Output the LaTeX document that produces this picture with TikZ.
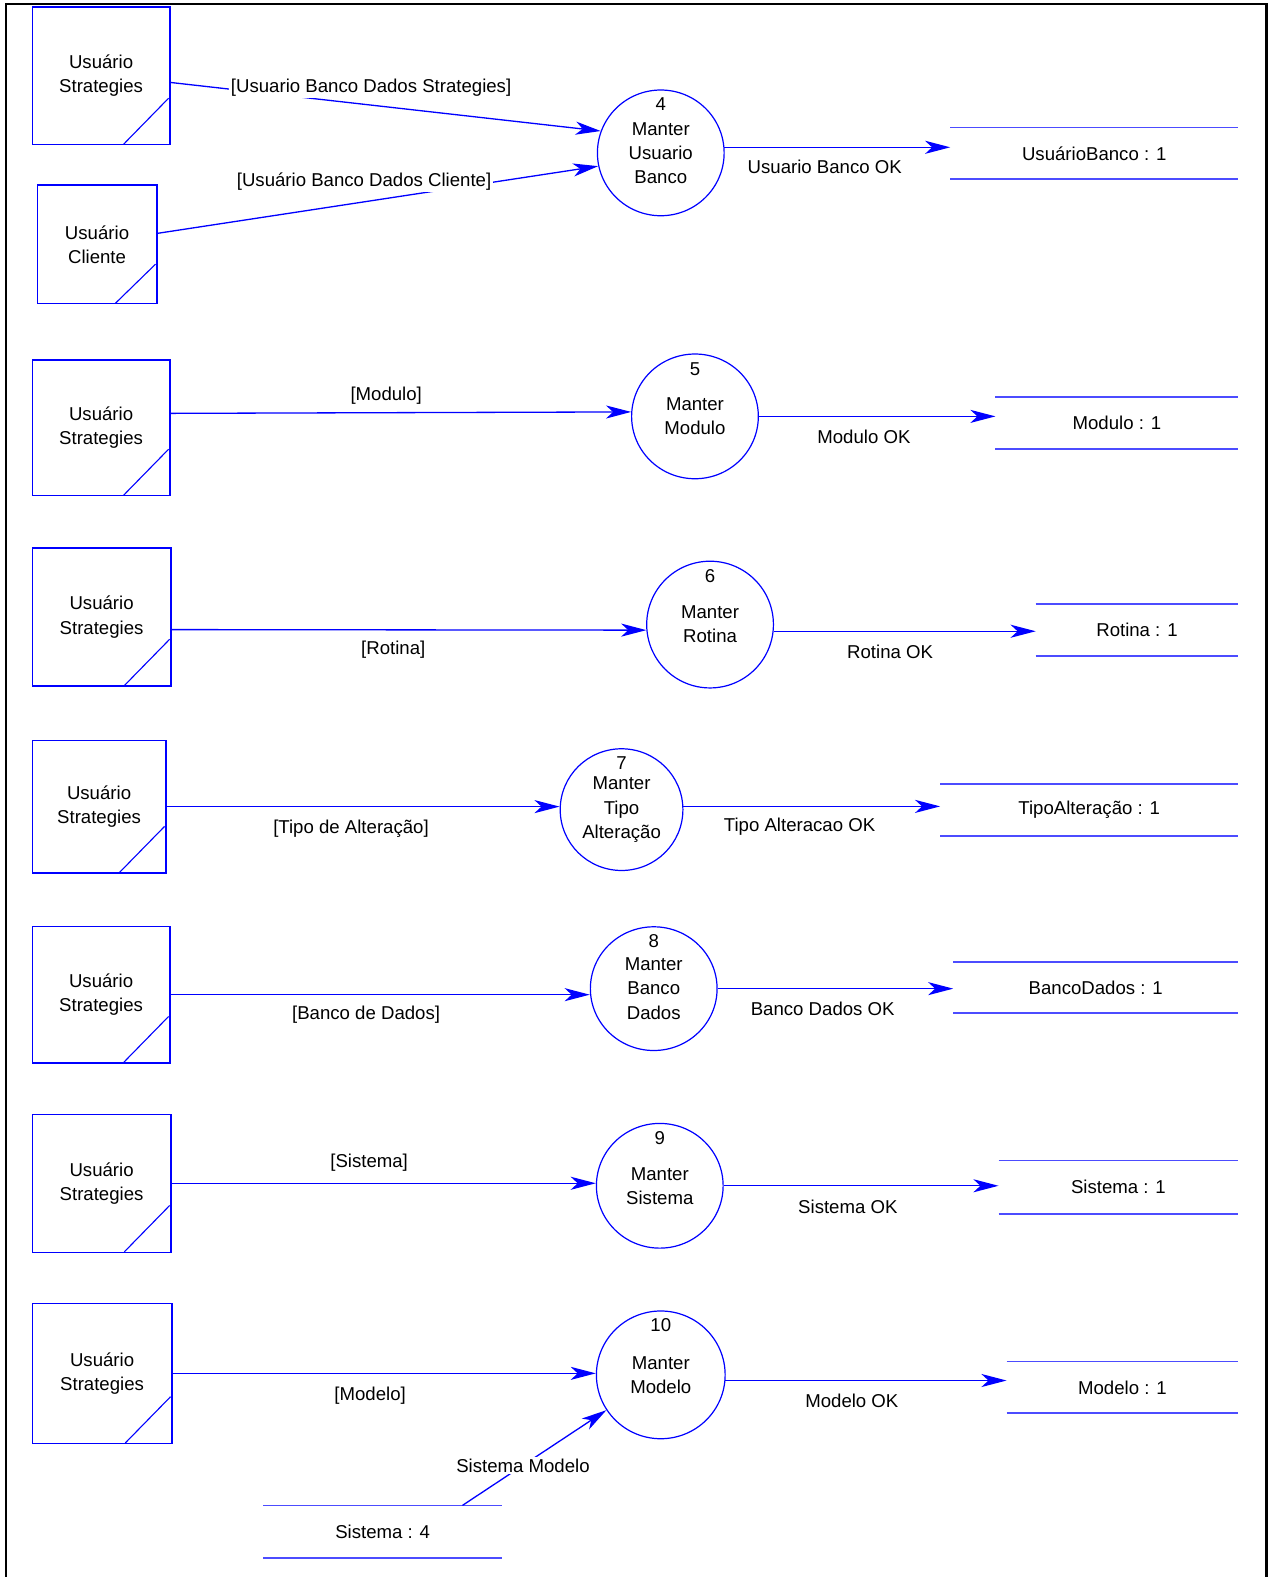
\documentclass[tikz,border=0pt]{standalone}
\usepackage{fontspec}
\setmainfont{Liberation Sans}
\usetikzlibrary{shapes.geometric,arrows.meta,calc}
\definecolor{dfdblue}{RGB}{0,0,255}

\begin{document}
\begin{tikzpicture}[x=1pt,y=-1pt,
  every node/.style={font=\fontsize{18.5}{24}\selectfont, text=black, inner sep=0pt, align=center},
  ent/.style={draw=dfdblue, line width=1.3pt, rectangle},
  diag/.style={draw=dfdblue, line width=1.1pt},
  proc/.style={draw=dfdblue, line width=1.2pt, ellipse},
  store/.style={rectangle},
  storeline/.style={draw=dfdblue!70, line width=1.7pt},
  flow/.style={draw=dfdblue, line width=1.3pt, -{Stealth[length=25pt,width=13pt,inset=7pt]}},
  tag/.style={fill=white, inner sep=1.5pt, yshift=-2pt},
  frameline/.style={draw=black, line width=2.5pt}
]
\useasboundingbox (0,0) rectangle (1264,1568);

% outer frame (open at the bottom)
\draw[frameline] (6,1568) -- (6,4) -- (1259,4) -- (1259,1568);

% external entities
\node[ent, minimum width=137pt, minimum height=137pt] (b1)  at (100.5,75.5)   {Usuário\\Strategies};
\node[ent, minimum width=119pt, minimum height=118pt] (b2)  at (96.5,243)     {Usuário\\Cliente};
\node[ent, minimum width=137pt, minimum height=135pt] (b5)  at (100.5,425.5)  {Usuário\\Strategies};
\node[ent, minimum width=138pt, minimum height=137pt] (b6)  at (101,613.5)    {Usuário\\Strategies};
\node[ent, minimum width=133pt, minimum height=132pt] (b7)  at (98.5,802)     {Usuário\\Strategies};
\node[ent, minimum width=137pt, minimum height=136pt] (b8)  at (100.5,989)    {Usuário\\Strategies};
\node[ent, minimum width=138pt, minimum height=137pt] (b9)  at (101,1176.5)   {Usuário\\Strategies};
\node[ent, minimum width=139pt, minimum height=139pt] (b10) at (101.5,1365.5) {Usuário\\Strategies};

% corner strokes of the entities
\foreach \b in {b1,b5,b6,b7,b8,b9,b10}
  \draw[diag] ($(\b.south east)+(-47,-1)$) -- ($(\b.south east)+(-2,-47)$);
\draw[diag] ($(b2.south east)+(-42,-1)$) -- ($(b2.south east)+(-2,-40)$);

% processes
\node[proc, minimum width=126pt, minimum height=125pt] (c4)  at (657,152)  {Manter\\Usuario\\Banco};
\node[proc, minimum width=126pt, minimum height=124pt] (c5)  at (691,414)  {Manter\\Modulo};
\node[proc, minimum width=126pt, minimum height=126pt] (c6)  at (706,621)  {Manter\\Rotina};
\node[proc, minimum width=122pt, minimum height=121pt] (c7)  at (618,805)  {Manter\\Tipo\\Alteração};
\node[proc, minimum width=126pt, minimum height=123pt] (c8)  at (650,983)  {Manter\\Banco\\Dados};
\node[proc, minimum width=126pt, minimum height=124pt] (c9)  at (656,1179) {Manter\\Sistema};
\node[proc, minimum width=128pt, minimum height=127pt] (c10) at (657,1367) {Manter\\Modelo};

% process numbers
\node (n4)  at ($(c4.north)+(0,15)$)  {4};
\node (n5)  at ($(c5.north)+(0,16)$)  {5};
\node (n6)  at ($(c6.north)+(0,15)$)  {6};
\node (n7)  at ($(c7.north)+(0,15)$)  {7};
\node (n8)  at ($(c8.north)+(0,15)$)  {8};
\node (n9)  at ($(c9.north)+(0,15)$)  {9};
\node (n10) at ($(c10.north)+(0,15)$) {10};

% data stores
\node[store, minimum width=286pt, minimum height=51pt] (s4)  at (1088,152.5)   {UsuárioBanco : 1};
\node[store, minimum width=241pt, minimum height=51pt] (s5)  at (1110.5,420.5) {Modulo : 1};
\node[store, minimum width=201pt, minimum height=51pt] (s6)  at (1130.5,626.5) {Rotina : 1};
\node[store, minimum width=296pt, minimum height=51pt] (s7)  at (1083,805.5)   {TipoAlteração : 1};
\node[store, minimum width=283pt, minimum height=50pt] (s8)  at (1089.5,982)   {BancoDados : 1};
\node[store, minimum width=238pt, minimum height=53pt] (s9)  at (1112,1180.5)  {Sistema : 1};
\node[store, minimum width=230pt, minimum height=51pt] (s10) at (1116,1379.5)  {Modelo : 1};
\node[store, minimum width=237pt, minimum height=52pt] (sS)  at (380.5,1523)   {Sistema : 4};
\foreach \s in {s4,s5,s6,s7,s8,s9,s10,sS} {
  \draw[storeline] (\s.north west) -- (\s.north east);
  \draw[storeline] (\s.south west) -- (\s.south east);
}

% data flows
\draw[flow] ($(b1.east)+(0,6.5)$) -- (c4.160);
\draw[flow] ($(b2.east)+(0,-11)$) -- (c4.192);
\draw[flow] (c4.5) -- (c4.5 -| s4.west);

\draw[flow] ($(b5.east)+(0,-14.5)$) -- (c5.176);
\draw[flow] (c5.east) -- (c5.east -| s5.west);

\draw[flow] ($(b6.east)+(0,12.5)$) -- (c6.185);
\draw[flow] (c6.354) -- (c6.354 -| s6.west);

\draw[flow] (b7.east) -- (b7.east -| c7.west);
\draw[flow] (c7.3) -- (c7.3 -| s7.west);

\draw[flow] (b8.east) -- (b8.east -| c8.west);
\draw[flow] (c8.east) -- (c8.east -| s8.west);

\draw[flow] (b9.east) -- (b9.east -| c9.west);
\draw[flow] (c9.east) -- (c9.east -| s9.west);

\draw[flow] (b10.east) -- (b10.east -| c10.west);
\draw[flow] (c10.355) -- (c10.355 -| s10.west);
\draw[flow] ($(sS.north west)+(198,0)$) -- (c10.213);

% flow labels
\node[tag] (l4a) at (369,85)   {[Usuario Banco Dados Strategies]};
\node[tag] (l4b) at (362,179)  {[Usuário Banco Dados Cliente]};
\node[tag] (l4c) at (820,164)  {Usuario Banco OK};
\node[tag] (l5a) at (384,391)  {[Modulo]};
\node[tag] (l5b) at (859,432)  {Modulo OK};
\node[tag] (l6a) at (391,644)  {[Rotina]};
\node[tag] (l6b) at (885,646)  {Rotina OK};
\node[tag] (l7a) at (349,822)  {[Tipo de Alteração]};
\node[tag] (l7b) at (795,820)  {Tipo Alteracao OK};
\node[tag] (l8a) at (364,1007) {[Banco de Dados]};
\node[tag] (l8b) at (818,1001) {Banco Dados OK};
\node[tag] (l9a) at (367,1154) {[Sistema]};
\node[tag] (l9b) at (843,1198) {Sistema OK};
\node[tag] (l10a) at (368,1386) {[Modelo]};
\node[tag] (l10b) at (847,1391) {Modelo OK};
\node[tag] (l10c) at (520,1455) {Sistema Modelo};
\end{tikzpicture}
\end{document}
